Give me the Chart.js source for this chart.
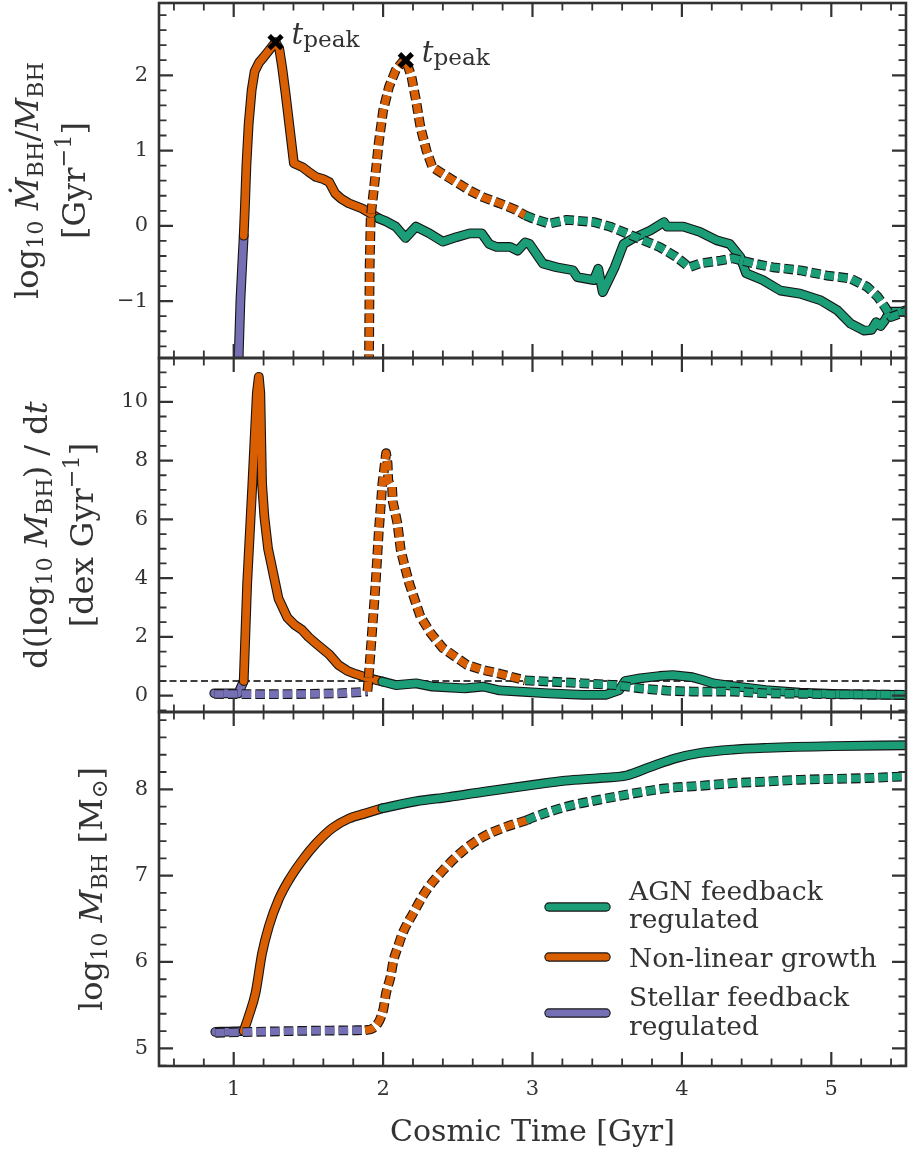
<!DOCTYPE html>
<html>
<head>
<meta charset="utf-8">
<title>Black hole growth regimes</title>
<script src="https://cdn.jsdelivr.net/npm/chart.js@4.4.1/dist/chart.umd.min.js"></script>
<style>
  html, body { margin: 0; padding: 0; background: #ffffff; }
  body { width: 908px; height: 1151px; position: relative; overflow: hidden; }
  canvas { position: absolute; left: 0; }
</style>
</head>
<body>
<canvas id="rate" width="908" height="362" style="top:0px"></canvas>
<canvas id="slope" width="908" height="362" style="top:354px"></canvas>
<canvas id="mass" width="908" height="443" style="top:708px"></canvas>
<script>
// ---------------- data ----------------
const xTicks = [1, 2, 3, 4, 5];
const rateTicks = [-1, 0, 1, 2];
const slopeTicks = [0, 2, 4, 6, 8, 10];
const massTicks = [5, 6, 7, 8];

// panel 1: log10 Mdot_BH / M_BH  [Gyr^-1]
const rateSolidStellar = [[1.030,-2.2],[1.034,-1.69],[1.045,-0.99],[1.056,-0.55],[1.067,-0.13]];
const rateSolidNonlin = [[1.067,-0.13],[1.075,0.25],[1.085,0.80],[1.10,1.35],[1.12,1.80],[1.14,2.05],[1.17,2.17],[1.20,2.24],[1.24,2.34],[1.28,2.44],[1.305,2.35],[1.324,2.11],[1.347,1.76],[1.403,0.83],[1.46,0.78],[1.50,0.72],[1.55,0.65],[1.60,0.62],[1.64,0.58],[1.68,0.43],[1.72,0.36],[1.77,0.30],[1.86,0.23],[1.97,0.10]];
const rateSolidAGN = [[1.97,0.10],[2.02,0.06],[2.085,-0.01],[2.15,-0.16],[2.22,-0.01],[2.31,-0.10],[2.40,-0.21],[2.49,-0.15],[2.58,-0.10],[2.66,-0.10],[2.71,-0.24],[2.76,-0.28],[2.85,-0.28],[2.90,-0.33],[2.95,-0.22],[2.98,-0.24],[3.07,-0.50],[3.16,-0.55],[3.27,-0.59],[3.30,-0.68],[3.41,-0.72],[3.44,-0.57],[3.47,-0.88],[3.55,-0.55],[3.61,-0.24],[3.67,-0.17],[3.79,-0.06],[3.88,0.05],[3.90,-0.01],[4.01,-0.01],[4.12,-0.08],[4.23,-0.19],[4.32,-0.24],[4.39,-0.41],[4.43,-0.63],[4.54,-0.72],[4.66,-0.86],[4.79,-0.90],[4.93,-0.99],[5.04,-1.12],[5.13,-1.30],[5.22,-1.39],[5.27,-1.38],[5.30,-1.28],[5.33,-1.33],[5.36,-1.25],[5.39,-1.14],[5.47,-1.14],[5.50,-1.12]];
const rateDashedNonlin = [[1.905,-2.2],[1.906,-1.69],[1.910,-0.55],[1.917,0.12],[1.94,0.52],[1.97,1.09],[2.00,1.53],[2.04,1.85],[2.085,2.07],[2.13,2.18],[2.152,2.20],[2.19,1.98],[2.22,1.67],[2.25,1.31],[2.29,1.00],[2.33,0.78],[2.40,0.69],[2.49,0.58],[2.58,0.47],[2.67,0.38],[2.78,0.30],[2.89,0.21],[2.95,0.14]];
const rateDashedAGN = [[2.95,0.14],[3.00,0.10],[3.11,0.03],[3.23,0.08],[3.41,0.05],[3.52,-0.01],[3.63,-0.10],[3.74,-0.19],[3.85,-0.28],[3.96,-0.41],[4.05,-0.55],[4.12,-0.50],[4.26,-0.46],[4.34,-0.43],[4.48,-0.50],[4.61,-0.55],[4.79,-0.59],[4.97,-0.66],[5.13,-0.70],[5.24,-0.81],[5.31,-0.94],[5.36,-1.08],[5.40,-1.21],[5.47,-1.16],[5.50,-1.14]];
const peakPoints = [[1.28,2.44],[2.152,2.20]];

// panel 2: d(log10 M_BH)/dt  [dex Gyr^-1]
const slopeSolidStellar = [[0.87,0.08],[1.03,0.08],[1.05,0.30],[1.067,0.50]];
const slopeSolidNonlin = [[1.067,0.50],[1.09,3.8],[1.125,7.2],[1.155,10.3],[1.168,10.85],[1.178,10.3],[1.19,7.2],[1.205,6.1],[1.23,5.0],[1.255,4.4],[1.30,3.3],[1.36,2.65],[1.41,2.40],[1.455,2.25],[1.50,2.00],[1.55,1.78],[1.64,1.40],[1.70,1.05],[1.76,0.85],[1.815,0.74],[1.906,0.59],[1.995,0.48]];
const slopeSolidAGN = [[1.995,0.48],[2.085,0.36],[2.22,0.42],[2.33,0.31],[2.55,0.25],[2.67,0.31],[2.78,0.18],[2.91,0.14],[3.11,0.08],[3.34,0.03],[3.49,0.03],[3.58,0.19],[3.62,0.50],[3.72,0.59],[3.85,0.67],[3.94,0.70],[4.07,0.63],[4.14,0.53],[4.21,0.42],[4.34,0.33],[4.56,0.19],[4.79,0.10],[5.01,0.06],[5.50,0.02]];
const slopeDashedStellar = [[0.87,0.06],[1.20,0.05],[1.50,0.06],[1.70,0.08],[1.85,0.12],[1.895,0.15]];
const slopeDashedNonlin = [[1.895,0.15],[1.90,0.42],[1.917,1.55],[1.95,3.82],[1.97,5.5],[1.995,7.2],[2.02,8.25],[2.03,7.9],[2.035,7.3],[2.045,7.2],[2.06,7.1],[2.065,6.6],[2.096,5.86],[2.118,4.96],[2.14,4.5],[2.175,3.82],[2.22,3.14],[2.25,2.69],[2.32,2.12],[2.40,1.62],[2.49,1.30],[2.56,1.05],[2.67,0.87],[2.78,0.75],[2.89,0.60],[2.95,0.52]];
const slopeDashedAGN = [[2.95,0.52],[3.11,0.48],[3.34,0.42],[3.56,0.36],[3.72,0.25],[3.90,0.17],[4.07,0.14],[4.34,0.14],[4.56,0.08],[5.00,0.05],[5.50,0.03]];
const growthThreshold = 0.5;

// panel 3: log10 M_BH [Msun]
const massSolidStellar = [[0.877,5.19],[1.00,5.195],[1.067,5.20]];
const massSolidNonlin = [[1.067,5.20],[1.10,5.37],[1.146,5.64],[1.19,6.10],[1.235,6.41],[1.30,6.72],[1.37,6.95],[1.46,7.18],[1.55,7.37],[1.66,7.55],[1.77,7.66],[1.88,7.72],[1.995,7.78]];
const massSolidAGN = [[1.995,7.78],[2.22,7.86],[2.44,7.91],[2.67,7.97],[3.00,8.05],[3.22,8.10],[3.45,8.13],[3.63,8.16],[3.79,8.26],[3.96,8.36],[4.12,8.42],[4.34,8.46],[4.57,8.48],[5.01,8.50],[5.50,8.51]];
const massDashedStellar = [[0.877,5.18],[1.40,5.20],[1.88,5.21]];
const massDashedNonlin = [[1.88,5.21],[1.93,5.23],[2.00,5.44],[2.02,5.64],[2.05,5.83],[2.07,6.02],[2.10,6.18],[2.13,6.33],[2.20,6.56],[2.29,6.83],[2.40,7.06],[2.53,7.28],[2.67,7.45],[2.80,7.55],[2.96,7.64]];
const massDashedAGN = [[2.96,7.64],[3.00,7.67],[3.23,7.80],[3.45,7.88],[3.67,7.95],[3.89,8.01],[4.12,8.04],[4.34,8.07],[4.57,8.09],[4.79,8.11],[5.01,8.12],[5.24,8.13],[5.50,8.15]];

const legendLabels = [["AGN feedback", "regulated"], ["Non-linear growth"], ["Stellar feedback", "regulated"]];

// ---------------- styling ----------------
const INK = '#333333';
const OUTLINE = '#141414';
const SERIF = '"DejaVu Serif", "Liberation Serif", serif';
const COL = { agn: '#1b9e77', nonlin: '#d95f02', stellar: '#7570b3' };
const DASH = [9.5, 4.2];

function lineDatasets(points, color, dashed, smooth) {
  const data = points.map(p => ({ x: p[0], y: p[1] }));
  const common = {
    data, pointRadius: 0, pointHoverRadius: 0, fill: false, clip: 0,
    borderJoinStyle: 'round', borderCapStyle: dashed ? 'butt' : 'round',
    borderDash: dashed ? DASH : [], tension: 0,
    cubicInterpolationMode: smooth ? 'monotone' : 'default'
  };
  return [
    Object.assign({}, common, { borderColor: OUTLINE, borderWidth: 9.8 }),
    Object.assign({}, common, { borderColor: color, borderWidth: 7.6 })
  ];
}
function withOrder(list) {
  const n = list.length;
  list.forEach((d, i) => { d.order = n - i; });
  return list;
}

// rich text (sub/superscripts) drawn on the canvas
function drawRich(ctx, parts, size, x, y, rot, align, baseline) {
  ctx.save();
  ctx.translate(x, y);
  if (rot) ctx.rotate(rot);
  ctx.fillStyle = INK;
  ctx.textBaseline = baseline || 'middle';
  const items = parts.map(p => {
    const kind = p[1] || 'n';
    let fs = size, dy = 0, st = '';
    if (kind === 'i') st = 'italic ';
    if (kind === 'sub') { fs = size * 0.7; dy = size * 0.24; }
    if (kind === 'psub') { fs = size * 0.8; dy = size * 0.1; }
    if (kind === 'sup') { fs = size * 0.7; dy = -size * 0.38; }
    const f = st + fs.toFixed(2) + 'px ' + SERIF;
    ctx.font = f;
    return { t: p[0], f, dy, w: ctx.measureText(p[0]).width };
  });
  const total = items.reduce((s, it) => s + it.w, 0);
  let cx = align === 'left' ? 0 : -total / 2;
  items.forEach(it => { ctx.font = it.f; ctx.fillText(it.t, cx, it.dy); cx += it.w; });
  ctx.restore();
}

function drawFrame(chart, cfg) {
  const { ctx, chartArea: a } = chart;
  const xs = chart.scales.x, ys = chart.scales.y;
  ctx.save();
  ctx.strokeStyle = INK;
  ctx.lineCap = 'butt';
  const near = (v, arr) => arr.some(m => Math.abs(m - v) < 1e-6);
  const minors = (lo, hi, step, majors) => {
    const out = [];
    for (let k = Math.ceil(lo / step - 1e-9); k * step <= hi + 1e-9; k++) {
      const v = +(k * step).toFixed(6);
      if (v > lo && v < hi && !near(v, majors)) out.push(v);
    }
    return out;
  };
  const xTick = (vals, len, lw) => {
    ctx.lineWidth = lw; ctx.beginPath();
    vals.forEach(v => {
      const px = xs.getPixelForValue(v);
      ctx.moveTo(px, a.top); ctx.lineTo(px, a.top + len);
      ctx.moveTo(px, a.bottom); ctx.lineTo(px, a.bottom - len);
    });
    ctx.stroke();
  };
  const yTick = (vals, len, lw) => {
    ctx.lineWidth = lw; ctx.beginPath();
    vals.forEach(v => {
      const py = ys.getPixelForValue(v);
      ctx.moveTo(a.left, py); ctx.lineTo(a.left + len, py);
      ctx.moveTo(a.right, py); ctx.lineTo(a.right - len, py);
    });
    ctx.stroke();
  };
  xTick(xTicks, 14, 2.2);
  xTick(minors(xs.min, xs.max, 0.2, xTicks), 7.5, 1.8);
  yTick(cfg.yTicks, 14, 2.2);
  yTick(minors(ys.min, ys.max, cfg.yMinor, cfg.yTicks), 7.5, 1.8);
  ctx.lineWidth = 2.6;
  ctx.strokeRect(a.left, a.top, a.right - a.left, a.bottom - a.top);
  ctx.restore();
}

const panelCfg = {};
const decor = {
  id: 'decor',
  afterDatasetsDraw(chart) { drawFrame(chart, panelCfg[chart.canvas.id]); },
  afterDraw(chart) {
    const cfg = panelCfg[chart.canvas.id];
    const { ctx, chartArea: a } = chart;
    const cy = (a.top + a.bottom) / 2;
    cfg.yLabel.forEach((line, i) => drawRich(ctx, line, 32, cfg.yLabelX[i], cy, -Math.PI / 2));
    if (cfg.extra) cfg.extra(chart);
  }
};

function makePanel(id, cfg) {
  panelCfg[id] = cfg;
  return new Chart(document.getElementById(id), {
    type: 'line',
    data: { datasets: withOrder(cfg.datasets) },
    options: {
      responsive: false, animation: false, devicePixelRatio: 1, events: [],
      layout: { padding: { left: 0, right: 2, top: cfg.padTop, bottom: cfg.showX ? 0 : 4 }, autoPadding: false },
      plugins: { legend: { display: false }, tooltip: { enabled: false } },
      scales: {
        x: {
          type: 'linear', min: 0.5, max: 5.5, display: cfg.showX,
          grid: { display: false, drawTicks: false }, border: { display: false },
          ticks: { font: { family: SERIF, size: 21 }, color: INK, padding: 11, maxRotation: 0, autoSkip: false },
          afterBuildTicks: s => { s.ticks = xTicks.map(v => ({ value: v })); },
          afterFit: s => { if (cfg.showX) { s.height = 85; s.paddingLeft = 0; s.paddingRight = 0; } }
        },
        y: {
          type: 'linear', min: cfg.yMin, max: cfg.yMax,
          grid: { display: false, drawTicks: false }, border: { display: false },
          ticks: { font: { family: SERIF, size: 21 }, color: INK, padding: 11, autoSkip: false,
                   callback: v => String(v).replace('-', '\u2212') },
          afterBuildTicks: s => { s.ticks = cfg.yTicks.map(v => ({ value: v })); },
          afterFit: s => { s.width = 159; s.paddingTop = 0; s.paddingBottom = 0; }
        }
      }
    },
    plugins: [decor]
  });
}

// ---------------- panel 1 ----------------
makePanel('rate', {
  padTop: 3, showX: false, yMin: -1.755, yMax: 2.96, yTicks: rateTicks, yMinor: 0.2,
  yLabelX: [30, 77],
  yLabel: [
    [['log'], ['10', 'sub'], [' '], ['\u1E40', 'i'], ['BH', 'sub'], ['/'], ['M', 'i'], ['BH', 'sub']],
    [['[Gyr'], ['\u22121', 'sup'], [']']]
  ],
  datasets: [
    ...lineDatasets(rateSolidStellar, COL.stellar, false),
    ...lineDatasets(rateSolidNonlin, COL.nonlin, false),
    ...lineDatasets(rateSolidAGN, COL.agn, false),
    ...lineDatasets(rateDashedNonlin, COL.nonlin, true),
    ...lineDatasets(rateDashedAGN, COL.agn, true),
    { data: peakPoints.map(p => ({ x: p[0], y: p[1] })), showLine: false, clip: false,
      pointStyle: 'crossRot', pointRadius: 9, borderWidth: 5, borderColor: '#000', backgroundColor: '#000' }
  ],
  extra(chart) {
    const { ctx } = chart;
    peakPoints.forEach(p => {
      const px = chart.scales.x.getPixelForValue(p[0]);
      const py = chart.scales.y.getPixelForValue(p[1]);
      drawRich(ctx, [['t', 'i'], ['peak', 'psub']], 29, px + 16, py + 1.5, 0, 'left', 'alphabetic');
    });
  }
});

// ---------------- panel 2 ----------------
makePanel('slope', {
  padTop: 4, showX: false, yMin: -0.555, yMax: 11.49, yTicks: slopeTicks, yMinor: 0.5,
  yLabelX: [39, 85],
  yLabel: [
    [['d(log'], ['10', 'sub'], [' '], ['M', 'i'], ['BH', 'sub'], [') / d'], ['t', 'i']],
    [['[dex Gyr'], ['\u22121', 'sup'], [']']]
  ],
  datasets: [
    { data: [{ x: 0.5, y: growthThreshold }, { x: 5.5, y: growthThreshold }], pointRadius: 0, clip: 0,
      borderColor: '#000', borderWidth: 1.6, borderDash: [7, 3.5], fill: false },
    ...lineDatasets(slopeSolidStellar, COL.stellar, false),
    ...lineDatasets(slopeSolidNonlin, COL.nonlin, false),
    ...lineDatasets(slopeSolidAGN, COL.agn, false),
    ...lineDatasets(slopeDashedStellar, COL.stellar, true),
    ...lineDatasets(slopeDashedNonlin, COL.nonlin, true),
    ...lineDatasets(slopeDashedAGN, COL.agn, true)
  ]
});

// ---------------- panel 3 ----------------
makePanel('mass', {
  padTop: 4, showX: true, yMin: 4.795, yMax: 8.895, yTicks: massTicks, yMinor: 0.2,
  yLabelX: [94],
  yLabel: [
    [['log'], ['10', 'sub'], [' '], ['M', 'i'], ['BH', 'sub'], [' [M'], ['\u2299', 'sub'], [']']]
  ],
  datasets: [
    ...lineDatasets(massSolidStellar, COL.stellar, false, true),
    ...lineDatasets(massSolidNonlin, COL.nonlin, false, true),
    ...lineDatasets(massSolidAGN, COL.agn, false, true),
    ...lineDatasets(massDashedStellar, COL.stellar, true, true),
    ...lineDatasets(massDashedNonlin, COL.nonlin, true, true),
    ...lineDatasets(massDashedAGN, COL.agn, true, true)
  ],
  extra(chart) {
    const { ctx, chartArea: a } = chart;
    // x-axis title
    drawRich(ctx, [['Cosmic Time [Gyr]']], 30, (a.left + a.right) / 2, a.bottom + 75, 0, 'center', 'alphabetic');
    // legend
    const keyColors = [COL.agn, COL.nonlin, COL.stellar];
    const keyY = [195, 245, 301];
    const textY = [[188, 216], [255], [294, 323]];
    const x0 = a.left + 390, x1 = a.left + 447, tx = a.left + 470;
    ctx.save();
    ctx.lineCap = 'round';
    keyColors.forEach((c, i) => {
      const y = a.top + keyY[i];
      ctx.beginPath(); ctx.moveTo(x0, y); ctx.lineTo(x1, y);
      ctx.strokeStyle = OUTLINE; ctx.lineWidth = 9.4; ctx.stroke();
      ctx.strokeStyle = c; ctx.lineWidth = 7.2; ctx.stroke();
    });
    ctx.restore();
    legendLabels.forEach((lines, i) => lines.forEach((t, j) => {
      drawRich(ctx, [[t]], 26.5, tx, a.top + textY[i][j], 0, 'left', 'alphabetic');
    }));
  }
});
</script>
</body>
</html>
